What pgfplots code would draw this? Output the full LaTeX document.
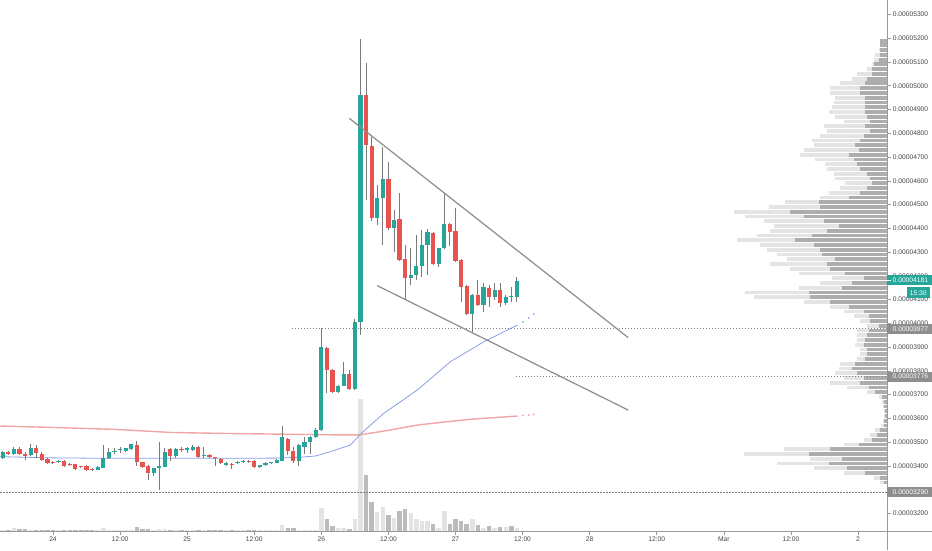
\documentclass[border=0pt]{standalone}
\usepackage{fontspec}
\setmainfont{Liberation Sans}
\usepackage{pgfplots}
\usepackage{pgfplotstable}
\pgfplotsset{compat=1.18}

\definecolor{upg}{HTML}{26A69A}
\definecolor{dnr}{HTML}{E8524F}
\definecolor{wick}{HTML}{7A7A7A}
\definecolor{trend}{HTML}{8C8C8C}
\definecolor{bluema}{RGB}{135,158,230}
\definecolor{redma}{RGB}{242,165,165}
\definecolor{volup}{HTML}{E3E3E3}
\definecolor{voldn}{HTML}{BBBBBB}
\definecolor{proflt}{HTML}{E4E4E4}
\definecolor{profdk}{HTML}{ADADAD}
\definecolor{lvl}{HTML}{7F7F7F}
\definecolor{boxgray}{HTML}{8E8E8E}
\definecolor{axisgray}{HTML}{9A9A9A}

% hourly candles, h = hours after 24 Feb 00:00, prices in 1e-8
\pgfplotstableread{
h O H L C
-9 3435 3462 3430 3460
-7 3450 3478 3447 3470
-4 3446 3491 3443 3474
1 3415 3425 3412 3422
8 3383 3400 3381 3397
9 3393 3488 3390 3432
10 3432 3474 3429 3459
11 3458 3474 3450 3462
12 3468 3478 3455 3471
13 3462 3476 3458 3474
14 3471 3493 3468 3491
18 3369 3393 3358 3390
19 3390 3499 3299 3401
20 3397 3477 3394 3460
22 3443 3477 3432 3470
24 3469 3481 3455 3476
25 3467 3488 3464 3480
27 3442 3480 3434 3446
31 3404 3418 3400 3414
33 3412 3420 3409 3417
34 3417 3425 3414 3422
37 3394 3404 3391 3402
38 3402 3415 3399 3412
39 3412 3418 3409 3415
40 3414 3428 3411 3425
41 3422 3568 3419 3522
44 3421 3491 3400 3488
45 3481 3520 3450 3499
46 3499 3525 3450 3522
47 3522 3560 3519 3553
48 3551 3979 3548 3902
51 3710 3741 3707 3738
52 3738 3839 3735 3787
54 3724 4020 3721 4007
55 4007 5196 3951 4961
58 4442 4582 4414 4526
59 4526 4744 4330 4608
61 4400 4477 4302 4435
64 4190 4316 4162 4204
65 4204 4372 4183 4241
66 4241 4393 4197 4330
67 4330 4396 4204 4386
69 4249 4319 4239 4316
70 4316 4547 4313 4417
75 4039 4122 3965 4119
77 4077 4169 4049 4155
79 4112 4168 4100 4140
81 4084 4119 4077 4112
82 4113 4153 4090 4117
83 4112 4194 4091 4178
}\upc

\pgfplotstableread{
h O H L C
-8 3460 3463 3447 3450
-6 3470 3478 3448 3450
-5 3452 3460 3425 3443
-3 3474 3488 3432 3453
-2 3452 3460 3423 3425
-1 3429 3432 3408 3411
0 3418 3421 3412 3414
2 3421 3424 3398 3400
3 3409 3414 3402 3406
4 3407 3410 3385 3387
5 3398 3401 3391 3394
6 3401 3404 3381 3383
7 3386 3390 3382 3384
15 3488 3505 3400 3415
16 3415 3418 3390 3397
17 3401 3404 3341 3372
21 3470 3477 3420 3443
23 3472 3478 3458 3469
26 3480 3483 3436 3439
28 3446 3450 3432 3436
29 3436 3439 3400 3432
30 3429 3432 3408 3411
32 3410 3414 3387 3406
35 3420 3423 3414 3417
36 3421 3424 3392 3395
42 3513 3516 3446 3463
43 3463 3481 3411 3421
49 3898 3902 3708 3804
50 3804 3808 3706 3710
53 3787 3804 3720 3724
56 4961 5095 4519 4751
57 4747 4786 4430 4442
60 4608 4681 4393 4400
62 4438 4547 4264 4267
63 4270 4330 4101 4190
68 4382 4385 4246 4249
71 4418 4421 4326 4386
72 4389 4484 4261 4264
73 4267 4270 4091 4152
74 4157 4160 4036 4039
76 4119 4182 4074 4077
78 4147 4160 4070 4112
80 4140 4168 4067 4084
}\dnc

% volume bar heights in px, up and down hours
\pgfplotstableread{
h v
-9 1
-7 3
-4 1
1 0.8
8 1
9 3
10 1.5
11 0.8
12 0.8
13 0.8
14 1
18 1.5
19 2
20 2
22 1
24 0.8
25 1
27 0.8
31 0.8
33 0.8
34 0.8
37 0.8
38 0.8
39 0.8
40 1
41 5.7
44 1.2
45 1
46 1
47 1.2
48 22.7
51 2.7
52 2.7
54 11.7
55 132
58 19
59 23.7
61 12.7
64 18
65 12
66 9.7
67 9.7
69 3.3
70 20
75 12.3
77 3.3
79 3
81 3.7
83 2.7
}\volup

\pgfplotstableread{
h v
-8 1
-6 2
-5 2
-3 1
-2 1
-1 1
0 0.8
2 1.5
3 0.8
4 1.5
5 0.8
6 1
7 0.8
15 4.5
16 2.5
17 2.5
21 1
23 0.8
26 1
28 0.8
29 1.5
30 1
32 0.8
35 0.8
36 1
42 3.3
43 2.7
49 11.7
50 4.7
53 1.7
56 56.4
57 29
60 15.7
62 20
63 22
68 7.3
71 7.3
72 11.7
73 10.3
74 7.3
76 5.7
78 4.7
80 4
82 4.7
}\voldn

% volume profile: price row, total length, darker part (px)
\pgfplotstableread{
p tot dk
5190 7.3 7.3
5170 7.3 7.3
5150 8.3 7.3
5130 11.7 7.3
5110 12.7 8.3
5090 15 12.7
5070 20 15
5050 30 15
5030 35 20
5010 46.7 22.3
4990 56.7 27.3
4970 56.7 26.7
4950 51.7 21.7
4930 53.3 21.7
4910 55 21.7
4890 58.3 21.7
4870 51.7 20
4850 43.3 16.7
4830 63.3 21.7
4810 60 16.7
4790 66.7 23.3
4770 75 26.7
4750 73.3 31.7
4730 83.3 28.3
4710 86.7 38.3
4690 71.7 33.3
4670 61.7 30
4650 60 26.7
4630 53.3 20
4610 51.7 16.7
4590 41.7 15
4570 46.7 20
4550 58.3 26.7
4530 66.7 38.3
4510 101.7 68.3
4490 118.3 66.7
4470 153.3 96.7
4450 141.7 83.3
4430 123.3 63.3
4410 113.3 48.3
4390 116.7 60
4370 130 75
4350 150 91.7
4330 126.7 73.3
4310 120 66.7
4290 110 65
4270 100 51.7
4250 116.7 60
4230 96.7 56.7
4210 88.3 41.7
4190 55 23.3
4170 66.7 35
4150 88.3 45
4130 141.7 78.3
4110 133.3 76.7
4090 83.3 56.7
4070 56.7 38.3
4050 43.3 23.3
4030 33.3 18.3
4010 26.7 16.7
3990 20 8.3
3970 30 18.3
3950 30 20
3930 30 21.7
3910 31.7 23.3
3890 26.7 20
3870 26.7 20
3850 30 21.7
3830 46.7 31.7
3810 48.3 35
3790 51.7 30
3770 43.3 23.3
3750 56.7 26.7
3730 40 18.3
3710 20 11.7
3690 8.3 5
3670 5 3.3
3650 4 2.7
3630 3.3 2
3610 3.3 2
3590 4 2.7
3570 5.7 3.3
3550 11.7 6.7
3530 16.7 10
3510 23.3 15
3490 43.3 28.3
3470 103.3 56.7
3450 143.3 78.3
3430 76.7 45
3410 110 58.3
3390 73.3 40
3370 43.3 21.7
3350 13.3 6.7
3330 6.7 3.3
}\profile

\pgfplotsset{
  candle/.style={draw=none, mark=none},
  lvlline/.style={lvl, line width=1pt, dash pattern=on 1.5pt off 1.5pt},
}
\tikzset{tagfont/.style={font=\fontsize{6.7}{8}\selectfont}}

\begin{document}
\begin{tikzpicture}
\begin{axis}[name=main, width=887pt, height=531pt, scale only axis,
    xmin=-9.48, xmax=149.19, ymin=3126.2, ymax=5361, clip=false,
    axis line style={draw=none},
    xtick={0,12,...,144},
    xticklabels={24,12:00,25,12:00,26,12:00,27,12:00,28,12:00,Mar,12:00,2},
    ytick={3200,3300,...,5300},
    yticklabels={0.00003200,0.00003300,0.00003400,0.00003500,0.00003600,0.00003700,0.00003800,0.00003900,0.00004000,0.00004100,0.00004200,0.00004300,0.00004400,0.00004500,0.00004600,0.00004700,0.00004800,0.00004900,0.00005000,0.00005100,0.00005200,0.00005300},
    xtick pos=left, ytick pos=right, yticklabel pos=right,
    tick align=outside, major tick length=4pt,
    tick style={draw=axisgray, line width=0.6pt},
    ticklabel style={font=\fontsize{6.7}{8}\selectfont, text=black!72},
    yticklabel style={inner sep=1.6pt},
    xticklabel style={inner sep=2pt}]

% volume bars (1 px = 4.2088 price units)
\addplot[candle, error bars/.cd, y dir=plus, y explicit, error mark=none,
    error bar style={draw=volup, line width=4.5pt}]
    table[x=h, y expr=3126.2, y error plus expr=\thisrow{v}*4.2088] {\volup};
\addplot[candle, error bars/.cd, y dir=plus, y explicit, error mark=none,
    error bar style={draw=voldn, line width=4.5pt}]
    table[x=h, y expr=3126.2, y error plus expr=\thisrow{v}*4.2088] {\voldn};

% volume profile from the right edge (1 px = 0.17888 h)
\addplot[candle, error bars/.cd, x dir=minus, x explicit, error mark=none,
    error bar style={draw=proflt, line width=3.8pt}]
    table[x expr=149.19, y=p, x error minus expr=\thisrow{tot}*0.17888] {\profile};
\addplot[candle, error bars/.cd, x dir=minus, x explicit, error mark=none,
    error bar style={draw=profdk, line width=3.8pt}]
    table[x expr=149.19, y=p, x error minus expr=\thisrow{dk}*0.17888] {\profile};

% levels
\addplot[lvlline] coordinates {(-9.48,3290) (149.19,3290)};
\addplot[lvlline] coordinates {(42.75,3977) (149.19,3977)};
\addplot[lvlline] coordinates {(82.8,3776) (149.19,3776)};

% moving averages
\addplot[redma, line width=1.4pt] coordinates {(-9.48,3568) (0,3562) (11,3554) (21,3541) (30,3537) (40,3534) (50,3531) (55,3531) (60,3550) (65.2,3572) (70,3585) (75,3597) (83.1,3610)};
\addplot[redma, only marks, mark=*, mark size=0.7pt] coordinates {(84.1,3612) (85.1,3614) (86,3617)};
\addplot[bluema, line width=0.8pt] coordinates {(-9.48,3439) (0,3434) (10,3432) (20,3432) (30,3432) (40,3433) (44,3436) (47,3442) (49.6,3460) (53.2,3488) (55,3534) (59.2,3622) (65.2,3720) (71.1,3839) (77.1,3923) (83.1,3993)};
\addplot[bluema, only marks, mark=*, mark size=0.6pt] coordinates {(84.1,4006) (85.1,4023) (86,4040)};

% wicks
\addplot[candle, error bars/.cd, y dir=both, y explicit, error mark=none,
    error bar style={draw=wick, line width=1pt}]
    table[x=h, y=C, y error plus expr=\thisrow{H}-\thisrow{C}, y error minus expr=\thisrow{C}-\thisrow{L}] {\upc};
\addplot[candle, error bars/.cd, y dir=both, y explicit, error mark=none,
    error bar style={draw=wick, line width=1pt}]
    table[x=h, y=C, y error plus expr=\thisrow{H}-\thisrow{C}, y error minus expr=\thisrow{C}-\thisrow{L}] {\dnc};
% bodies
\addplot[candle, error bars/.cd, y dir=plus, y explicit, error mark=none,
    error bar style={draw=upg, line width=4.2pt}]
    table[x=h, y=O, y error plus expr=\thisrow{C}-\thisrow{O}] {\upc};
\addplot[candle, error bars/.cd, y dir=plus, y explicit, error mark=none,
    error bar style={draw=dnr, line width=4.2pt}]
    table[x=h, y=C, y error plus expr=\thisrow{O}-\thisrow{C}] {\dnc};

% falling wedge
\addplot[trend, line width=1.2pt] coordinates {(53.0,4863) (102.9,3940)};
\addplot[trend, line width=1.2pt] coordinates {(58.0,4159) (102.9,3635)};

% frame and price tags
\draw[axisgray, line width=0.8pt] (rel axis cs:0,0) -- ([xshift=45pt]rel axis cs:1,0);
\draw[axisgray, line width=0.8pt] ([yshift=-19pt]rel axis cs:1,0) -- ([yshift=19pt]rel axis cs:1,1);
\coordinate (bl) at ([yshift=-19pt]rel axis cs:0,0);
\coordinate (tr) at ([xshift=45pt]rel axis cs:1,1);

\fill[boxgray] ([yshift=-5pt]axis cs:149.19,3977) rectangle ([xshift=45pt,yshift=5pt]axis cs:149.19,3977);
\node[tagfont, anchor=west, inner sep=0pt, text=white] at ([xshift=5.5pt]axis cs:149.19,3977) {0.00003977};
\fill[boxgray] ([yshift=-5pt]axis cs:149.19,3776) rectangle ([xshift=45pt,yshift=5pt]axis cs:149.19,3776);
\node[tagfont, anchor=west, inner sep=0pt, text=white] at ([xshift=5.5pt]axis cs:149.19,3776) {0.00003776};
\fill[boxgray] ([yshift=-5pt]axis cs:149.19,3290) rectangle ([xshift=45pt,yshift=5pt]axis cs:149.19,3290);
\node[tagfont, anchor=west, inner sep=0pt, text=white] at ([xshift=5.5pt]axis cs:149.19,3290) {0.00003290};
\fill[upg] ([yshift=-5pt]axis cs:149.19,4181) rectangle ([xshift=45pt,yshift=5pt]axis cs:149.19,4181);
\draw[white, line width=0.6pt] (axis cs:149.19,4181) -- ([xshift=3.5pt]axis cs:149.19,4181);
\node[tagfont, anchor=west, inner sep=0pt, text=white] at ([xshift=5.5pt]axis cs:149.19,4181) {0.00004181};
\fill[upg] ([xshift=19.5pt,yshift=-18pt]axis cs:149.19,4181) rectangle ([xshift=43pt,yshift=-7pt]axis cs:149.19,4181);
\node[tagfont, inner sep=0pt, text=white] at ([xshift=31.25pt,yshift=-12.5pt]axis cs:149.19,4181) {15:30};
\end{axis}
\pgfresetboundingbox
\path[use as bounding box] (bl) rectangle (tr);
\end{tikzpicture}
\end{document}
